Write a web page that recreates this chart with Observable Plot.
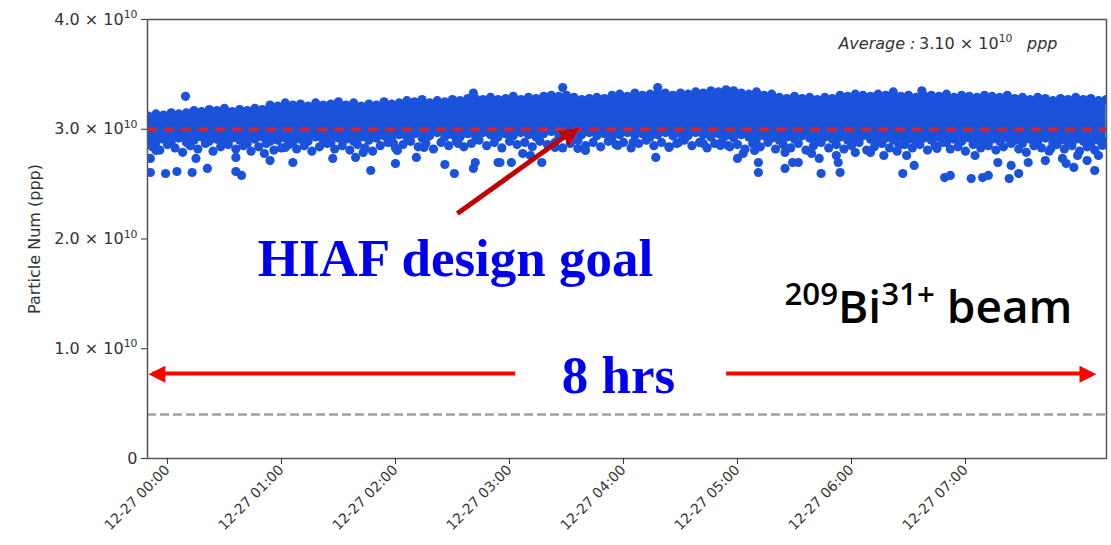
<!DOCTYPE html>
<html><head><meta charset="utf-8">
<script src="https://cdn.jsdelivr.net/npm/d3@7"></script>
<script src="https://cdn.jsdelivr.net/npm/@observablehq/plot@0.6"></script>
<style>html,body{margin:0;padding:0;background:#fff;} svg{display:block}</style>
</head><body><div id="chart"></div>
<script>
// ---- data (values in units of 10^10 particles per pulse, times in minutes after 12-27 00:00) ----
const sampleStart = -10, sampleStep = 4;
const upperEnvelope = [
 3.12,3.14,3.13,3.15,3.14,3.15,3.17,3.16,3.18,3.17,
 3.19,3.16,3.18,3.17,3.19,3.18,3.22,3.21,3.24,3.22,
 3.23,3.21,3.24,3.22,3.23,3.25,3.22,3.24,3.21,3.23,
 3.22,3.25,3.23,3.24,3.26,3.25,3.27,3.24,3.26,3.25,
 3.27,3.26,3.28,3.28,3.27,3.29,3.27,3.28,3.30,3.27,
 3.29,3.28,3.30,3.31,3.30,3.31,3.29,3.27,3.28,3.29,
 3.28,3.31,3.32,3.30,3.33,3.31,3.32,3.33,3.33,3.31,
 3.33,3.32,3.34,3.33,3.35,3.34,3.36,3.35,3.33,3.32,
 3.34,3.31,3.32,3.29,3.28,3.30,3.28,3.29,3.27,3.29,
 3.28,3.31,3.30,3.32,3.31,3.30,3.32,3.31,3.34,3.30,
 3.31,3.29,3.31,3.31,3.30,3.32,3.29,3.31,3.30,3.29,
 3.31,3.30,3.29,3.31,3.28,3.29,3.27,3.29,3.28,3.26,
 3.28,3.27,3.29,3.27,3.28,3.26,3.27];
const lowerEnvelope = [
 2.90,2.88,2.91,2.89,2.92,2.88,2.90,2.93,2.89,2.91,
 2.88,2.92,2.90,2.87,2.91,2.93,2.89,2.90,2.92,2.88,
 2.91,2.89,2.93,2.90,2.88,2.92,2.91,2.89,2.93,2.90,
 2.92,2.94,2.91,2.95,2.93,2.96,2.92,2.94,2.97,2.93,
 2.95,2.93,2.96,2.94,2.97,2.95,2.93,2.96,2.94,2.97,
 2.95,2.93,2.96,2.98,2.94,2.96,2.93,2.95,2.97,2.94,
 2.96,2.93,2.95,2.97,2.94,2.96,2.93,2.95,2.97,2.94,
 2.96,2.94,2.97,2.95,2.93,2.96,2.94,2.92,2.95,2.93,
 2.91,2.94,2.92,2.90,2.93,2.91,2.94,2.92,2.90,2.93,
 2.91,2.93,2.90,2.92,2.94,2.91,2.89,2.92,2.90,2.93,
 2.91,2.89,2.92,2.90,2.93,2.88,2.91,2.89,2.92,2.90,
 2.88,2.91,2.89,2.92,2.90,2.87,2.91,2.89,2.92,2.88,
 2.90,2.88,2.91,2.89,2.87,2.90,2.88];
const lowerScatter = [
 2.84,2.81,2.86,2.83,2.79,2.85,2.82,2.87,2.80,2.84,
 2.86,2.82,2.85,2.80,2.84,2.87,2.81,2.83,2.86,2.82,
 2.85,2.80,2.84,2.87,2.82,2.85,2.81,2.86,2.83,2.80,
 2.85,2.88,2.83,2.86,2.89,2.84,2.87,2.82,2.88,2.85,
 2.89,2.84,2.87,2.90,2.85,2.88,2.83,2.89,2.86,2.88,
 2.84,2.89,2.86,2.88,2.83,2.87,2.90,2.85,2.88,2.84,
 2.89,2.86,2.88,2.83,2.87,2.90,2.85,2.88,2.84,2.87,
 2.90,2.85,2.88,2.83,2.87,2.89,2.84,2.86,2.82,2.87,
 2.84,2.88,2.82,2.86,2.83,2.87,2.81,2.85,2.88,2.83,
 2.86,2.82,2.85,2.88,2.81,2.84,2.87,2.83,2.80,2.86,
 2.83,2.86,2.81,2.85,2.88,2.82,2.84,2.80,2.86,2.83,
 2.85,2.81,2.84,2.87,2.82,2.79,2.85,2.83,2.80,2.86,
 2.82,2.85,2.80,2.84,2.81,2.86,2.83];
const spikeMin = [9.5, 161, 208, 258, 397];
const spikeVal = [3.30, 3.33, 3.38, 3.38, 3.35];
const outlierMin = [-9,-9,-6,-1,5,13,15,21,36,39,36,51,54,62,66,87,99,103,107,119,120,121,131,135,146,151,153,161,162,174,175,181,187,191,197,204,216,220,237,245,257,264,269,282,291,295,300,303,309,311,311,325,325,329,332,339,343,344,352,353,354,362,370,377,385,387,389,393,405,409,412,423,425,429,432,437,443,444,448,453,462,465,471,473,477,479,484,488,490,492];
const outlierVal = [2.734,2.606,2.807,2.597,2.615,2.606,2.734,2.643,2.615,2.579,2.743,2.779,2.715,2.834,2.697,2.734,2.743,2.788,2.624,2.870,2.688,2.807,2.743,2.834,2.679,2.597,2.870,2.643,2.697,2.697,2.697,2.697,2.779,2.761,2.697,2.834,2.825,2.807,2.852,2.879,2.743,2.834,2.879,2.870,2.852,2.852,2.734,2.779,2.807,2.697,2.606,2.788,2.643,2.697,2.697,2.779,2.734,2.597,2.761,2.697,2.606,2.788,2.788,2.761,2.852,2.597,2.761,2.670,2.825,2.560,2.579,2.551,2.761,2.560,2.579,2.697,2.551,2.670,2.597,2.697,2.715,2.825,2.734,2.688,2.652,2.761,2.715,2.624,2.761,2.852];
const designGoal = 3.0;
const lowLevel = 0.4;
const spanLevel = 0.775;
const spanLeftMin = [183, -8];
const spanRightMin = [294, 484];
const pointerFrom = [152.6, 2.232];
const pointerTo = [210.6, 2.952];
const pointerHead = [212.4, 2.973];
const xDomainMin = [-10.5, 494.2];
const yTicks = [0, 1, 2, 3, 4];
const yTickLabels = ["0", "1.0 × 10¹⁰", "2.0 × 10¹⁰", "3.0 × 10¹⁰", "4.0 × 10¹⁰"];
const xTickMin = [0, 60, 120, 180, 240, 300, 360, 420];
const xTickLabels = ["12-27 00:00","12-27 01:00","12-27 02:00","12-27 03:00","12-27 04:00","12-27 05:00","12-27 06:00","12-27 07:00"];

// ---- build tables ----
const t0 = Date.UTC(2023, 11, 27, 0, 0, 0);
const toDate = m => new Date(t0 + m * 60000);
const env = upperEnvelope.map((u, i) => ({
  t: toDate(sampleStart + i * sampleStep),
  t2: toDate(sampleStart + i * sampleStep + sampleStep / 2),
  hi: u, lo: lowerEnvelope[i], lo2: lowerScatter[i]
}));
const outliers = outlierMin.map((m, i) => ({t: toDate(m), v: outlierVal[i]}));
const spikes = spikeMin.map((m, i) => ({t: toDate(m), v: spikeVal[i]}));
const xTicks = xTickMin.map(toDate);

const blue = "#1a52dc";
const R = 4.6;

const chart = Plot.plot({
  width: 1111, height: 545,
  marginLeft: 147, marginRight: 5, marginTop: 19, marginBottom: 87,
  style: {fontFamily: "DejaVu Sans, sans-serif", color: "#333", background: "#fff"},
  x: {type: "utc", domain: xDomainMin.map(toDate), label: null},
  y: {domain: [0, 4], label: null},
  marks: [
    Plot.areaY(env, {x: "t", y1: "lo", y2: "hi", fill: blue, curve: "linear"}),
    Plot.dot(env, {x: "t", y: "hi", r: R, fill: blue, clip: true}),
    Plot.dot(env, {x: "t", y: "lo", r: R, fill: blue, clip: true}),
    Plot.dot(env, {x: "t2", y: "lo2", r: R, fill: blue, clip: true}),
    Plot.dot(outliers, {x: "t", y: "v", r: R, fill: blue, clip: true}),
    Plot.dot(spikes, {x: "t", y: "v", r: R, fill: blue, clip: true}),
    Plot.ruleY([designGoal], {stroke: "#c8283c", strokeWidth: 3.5, strokeDasharray: "10,7"}),
    Plot.ruleY([lowLevel], {stroke: "#a0a0a0", strokeWidth: 2.5, strokeDasharray: "9,4"}),
    Plot.link([spanLeftMin, spanRightMin], {x1: d => toDate(d[0]), x2: d => toDate(d[1]), y1: spanLevel, y2: spanLevel, stroke: "#ff0000", strokeWidth: 4}),
    Plot.text(["◀"], {x: toDate(-5.5), y: spanLevel, fill: "#ff0000", fontSize: 22, fontFamily: "DejaVu Sans"}),
    Plot.text(["▶"], {x: toDate(484.5), y: spanLevel, fill: "#ff0000", fontSize: 22, fontFamily: "DejaVu Sans"}),
    Plot.link([[pointerFrom, pointerTo]], {x1: d => toDate(d[0][0]), y1: d => d[0][1], x2: d => toDate(d[1][0]), y2: d => d[1][1], stroke: "#c00000", strokeWidth: 5}),
    Plot.text(["▶"], {x: toDate(pointerHead[0]), y: pointerHead[1], rotate: -35.6, fill: "#c00000", fontSize: 24, fontFamily: "DejaVu Sans"}),
    Plot.frame({stroke: "#555", strokeWidth: 1.5}),
    Plot.axisY({ticks: yTicks, tickFormat: d => yTickLabels[yTicks.indexOf(d)], fontSize: 16, tickSize: 6, tickPadding: 4, label: null}),
    Plot.axisX({ticks: xTicks, tickFormat: d => xTickLabels[xTicks.findIndex(e => +e === +d)], tickRotate: -45, fontSize: 14, tickSize: 6, tickPadding: 3, label: null}),
    Plot.text(["Particle Num (ppp)"], {frameAnchor: "left", dx: -113, rotate: -90, textAnchor: "middle", lineAnchor: "middle", fontSize: 16, fill: "#333"}),
    Plot.text(["Average :"], {frameAnchor: "top-right", dx: -191, dy: 24, textAnchor: "end", lineAnchor: "middle", fontStyle: "italic", fontSize: 16, fill: "#333"}),
    Plot.text(["3.10 × 10¹⁰"], {frameAnchor: "top-right", dx: -94, dy: 24, textAnchor: "end", lineAnchor: "middle", fontSize: 16, fill: "#333"}),
    Plot.text(["ppp"], {frameAnchor: "top-right", dx: -49, dy: 24, textAnchor: "end", lineAnchor: "middle", fontStyle: "italic", fontSize: 16, fill: "#333"}),
    Plot.text(["HIAF design goal"], {frameAnchor: "top-left", dx: 308, dy: 240, textAnchor: "middle", lineAnchor: "middle", fontFamily: "Liberation Serif", fontWeight: "bold", fontSize: 53, fill: "#0000f0"}),
    Plot.text(["8 hrs"], {frameAnchor: "top-left", dx: 471, dy: 357, textAnchor: "middle", lineAnchor: "middle", fontFamily: "Liberation Serif", fontWeight: "bold", fontSize: 53, fill: "#0000f0"}),
    Plot.text(["²⁰⁹Bi³¹⁺ beam"], {frameAnchor: "top-right", dx: -34, dy: 289, textAnchor: "end", lineAnchor: "middle", fontFamily: "Open Sans", fontWeight: 600, fontSize: 46, fill: "#000"})
  ]
});
document.getElementById("chart").appendChild(chart);

// render Unicode superscripts as raised, smaller text runs
const supMap = {"⁰":"0","¹":"1","²":"2","³":"3","⁴":"4","⁵":"5","⁶":"6","⁷":"7","⁸":"8","⁹":"9","⁺":"+"};
chart.querySelectorAll("text").forEach(t => {
  const s = t.textContent;
  if (![...s].some(c => c in supMap)) return;
  const fs = parseFloat(getComputedStyle(t).fontSize);
  const runs = [];
  for (const c of s) {
    const sup = c in supMap, ch = sup ? supMap[c] : c;
    if (runs.length && runs[runs.length - 1].sup === sup) runs[runs.length - 1].s += ch;
    else runs.push({sup, s: ch});
  }
  t.textContent = "";
  let raised = false;
  for (const r of runs) {
    const ts = document.createElementNS("http://www.w3.org/2000/svg", "tspan");
    ts.textContent = r.s;
    if (r.sup) { ts.setAttribute("font-size", fs * 0.68); if (!raised) ts.setAttribute("dy", -fs * 0.4); raised = true; }
    else if (raised) { ts.setAttribute("dy", fs * 0.4); raised = false; }
    t.appendChild(ts);
  }
});
</script>
</body></html>
